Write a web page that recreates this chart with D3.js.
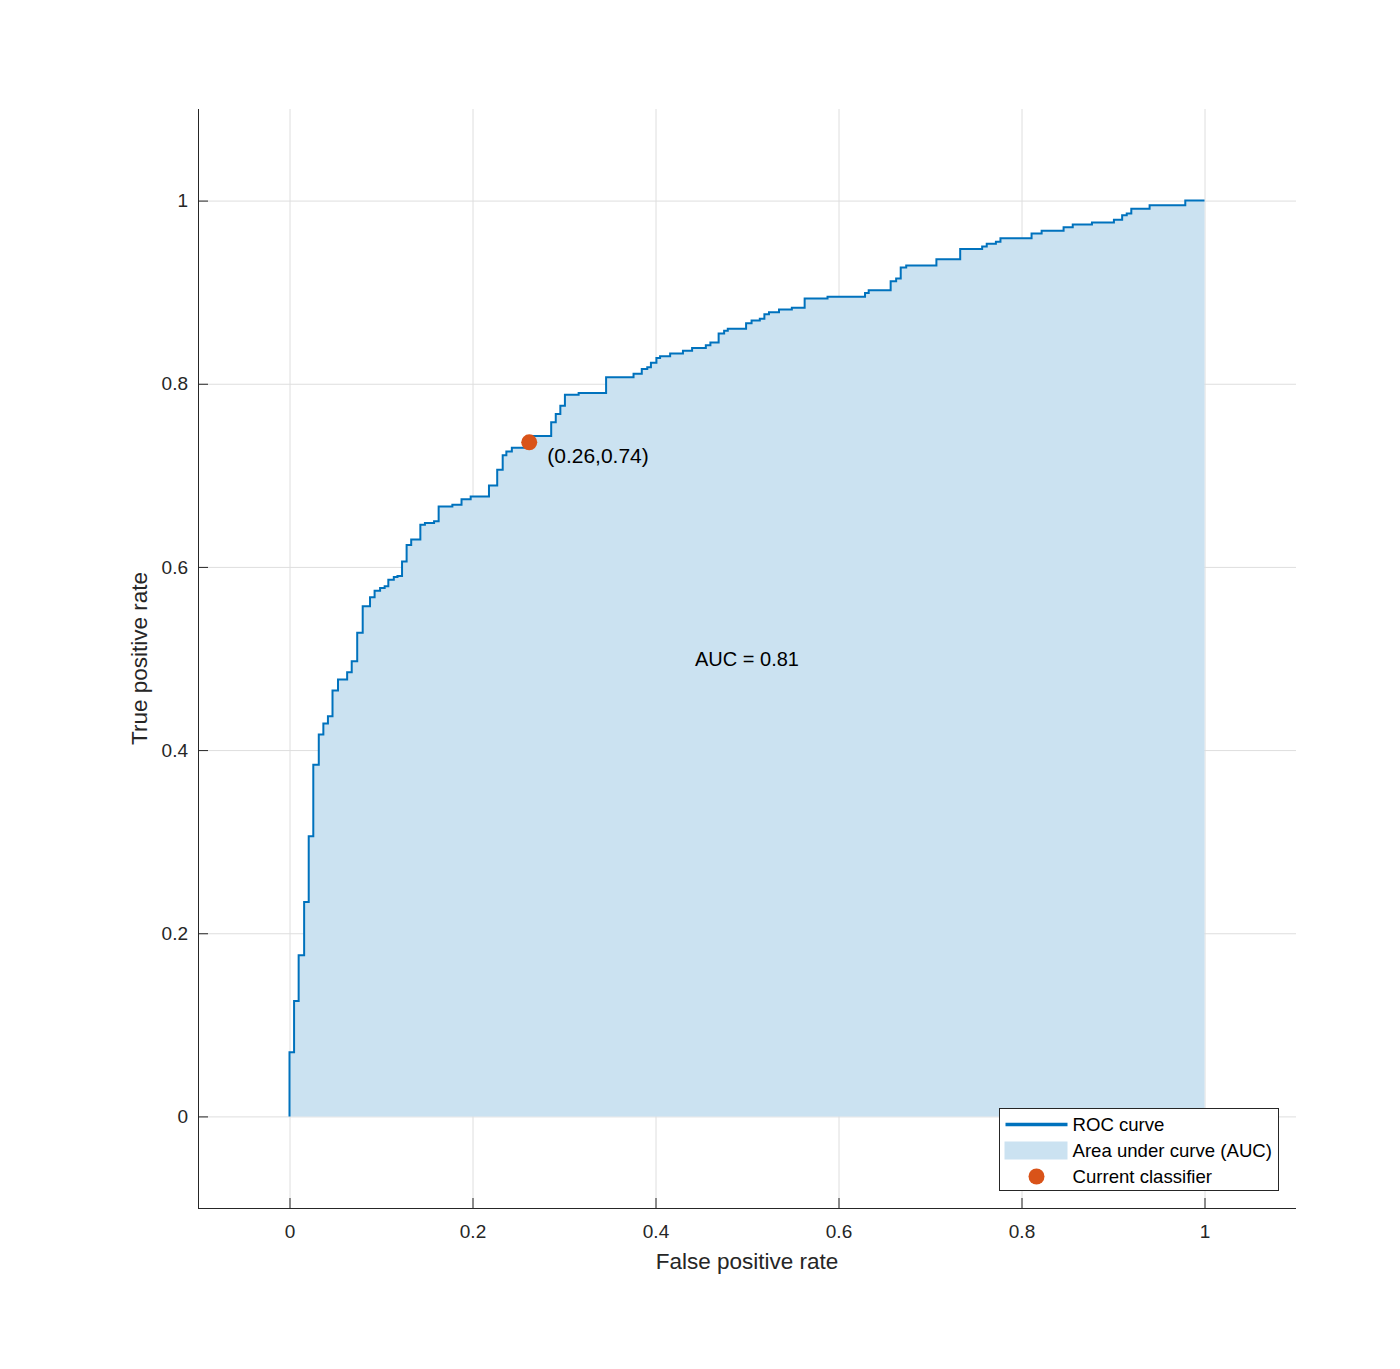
<!DOCTYPE html>
<html>
<head>
<meta charset="utf-8">
<script src="https://cdn.jsdelivr.net/npm/d3@7"></script>
<style>
  body { margin: 0; background: #fff; }
  svg { display: block; font-family: "Liberation Sans", Arial, Helvetica, sans-serif; }
</style>
</head>
<body>
<svg id="chart" width="1400" height="1369"></svg>
<script>
// ROC steps (fpr where the step happens, tpr after it)
var fprSteps = [0, 0, 0.005, 0.010, 0.016, 0.021, 0.026, 0.032, 0.037, 0.042, 0.047, 0.053, 0.063, 0.068, 0.074, 0.080,
  0.088, 0.093, 0.099, 0.104, 0.108, 0.114, 0.118, 0.123, 0.128, 0.133,
  0.143, 0.148, 0.158, 0.163, 0.178, 0.188, 0.198,
  0.218, 0.227, 0.233, 0.237, 0.243,
  0.260, 0.266,
  0.286, 0.291, 0.296, 0.301, 0.316, 0.346,
  0.376, 0.385, 0.391, 0.395, 0.401, 0.405, 0.416, 0.430, 0.440, 0.455, 0.460,
  0.469, 0.475, 0.479, 0.499, 0.505, 0.514, 0.519, 0.524, 0.535, 0.549,
  0.563, 0.588, 0.629, 0.633,
  0.657, 0.663, 0.668, 0.674, 0.707, 0.733,
  0.757, 0.762, 0.772, 0.777,
  0.811, 0.822, 0.846, 0.856, 0.877,
  0.901, 0.910, 0.915, 0.920, 0.940, 0.979, 1];
var tprSteps = [0, 0.070, 0.126, 0.176, 0.234, 0.306, 0.384, 0.417, 0.429, 0.437, 0.465, 0.477, 0.485, 0.497, 0.528, 0.557,
  0.567, 0.574, 0.577, 0.579, 0.586, 0.589, 0.590, 0.606, 0.624, 0.630,
  0.646, 0.648, 0.650, 0.666, 0.668, 0.674, 0.677,
  0.689, 0.706, 0.722, 0.726, 0.730,
  0.736, 0.743,
  0.758, 0.767, 0.776, 0.788, 0.790, 0.807,
  0.811, 0.816, 0.818, 0.823, 0.828, 0.830, 0.833, 0.836, 0.839, 0.842, 0.845,
  0.855, 0.858, 0.860, 0.866, 0.869, 0.871, 0.876, 0.878, 0.881, 0.883,
  0.893, 0.895, 0.899, 0.902,
  0.912, 0.915, 0.927, 0.929, 0.936, 0.947,
  0.950, 0.953, 0.955, 0.959,
  0.964, 0.967, 0.971, 0.974, 0.976,
  0.979, 0.984, 0.986, 0.991, 0.995, 1.000, 1.000];

var opFpr = [0.262];
var opTpr = [0.736];
var opLabel = ["(0.26,0.74)"];
var aucText = "AUC = 0.81";

var tickValues = [0, 0.2, 0.4, 0.6, 0.8, 1];
var tickLabels = ["0", "0.2", "0.4", "0.6", "0.8", "1"];
var legendLabels = ["ROC curve", "Area under curve (AUC)", "Current classifier"];

var lineColor = '#0072bd';
var areaColor = '#cbe2f1';
var dotColor = '#d95319';
var axisColor = '#262626';
var gridColor = '#dedede';

var plotLeft = 198, plotRight = 1296, plotTop = 109, plotBottom = 1208;

var x = d3.scaleLinear().domain([-0.1, 1.1]).range([plotLeft, plotRight]);
var y = d3.scaleLinear().domain([-0.1, 1.1]).range([plotBottom, plotTop]);

var svg = d3.select('#chart');

var points = fprSteps.map(function (f, i) { return [f, tprSteps[i]]; });

// grid
svg.append('g')
  .attr('transform', 'translate(0,' + plotBottom + ')')
  .call(d3.axisBottom(x).tickValues(tickValues).tickSize(-(plotBottom - plotTop)).tickFormat(''))
  .call(function (g) { g.select('.domain').remove(); })
  .selectAll('line').attr('stroke', gridColor);

svg.append('g')
  .attr('transform', 'translate(' + plotLeft + ',0)')
  .call(d3.axisLeft(y).tickValues(tickValues).tickSize(-(plotRight - plotLeft)).tickFormat(''))
  .call(function (g) { g.select('.domain').remove(); })
  .selectAll('line').attr('stroke', gridColor);

// area + curve
var area = d3.area()
  .curve(d3.curveStepAfter)
  .x(function (d) { return x(d[0]); })
  .y0(y(0))
  .y1(function (d) { return y(d[1]); });

var line = d3.line()
  .curve(d3.curveStepAfter)
  .x(function (d) { return x(d[0]); })
  .y(function (d) { return y(d[1]); });

svg.append('path')
  .datum(points)
  .attr('d', area)
  .attr('fill', areaColor);

svg.append('path')
  .datum(points)
  .attr('d', line)
  .attr('fill', 'none')
  .attr('stroke', lineColor)
  .attr('stroke-width', 2);

// axes (ticks point inward)
var xAxis = svg.append('g')
  .attr('transform', 'translate(0,' + plotBottom + ')')
  .call(d3.axisBottom(x).tickValues(tickValues).tickSize(-10).tickPadding(17)
    .tickFormat(function (d, i) { return tickLabels[i]; }));

var yAxis = svg.append('g')
  .attr('transform', 'translate(' + plotLeft + ',0)')
  .call(d3.axisLeft(y).tickValues(tickValues).tickSize(-10).tickPadding(10)
    .tickFormat(function (d, i) { return tickLabels[i]; }));

[xAxis, yAxis].forEach(function (g) {
  g.attr('font-family', null).attr('font-size', 19);
  g.selectAll('.tick line').attr('stroke', axisColor);
  g.selectAll('.tick text').attr('fill', axisColor);
});
xAxis.select('.domain').attr('stroke', axisColor).attr('d', 'M' + plotLeft + ',0.5H' + plotRight);
yAxis.select('.domain').attr('stroke', axisColor).attr('d', 'M0.5,' + plotTop + 'V' + plotBottom);

// axis labels
svg.append('text')
  .attr('x', (plotLeft + plotRight) / 2)
  .attr('y', 1269)
  .attr('text-anchor', 'middle')
  .attr('font-size', 22.5)
  .attr('fill', axisColor)
  .text('False positive rate');

svg.append('text')
  .attr('transform', 'translate(147,' + ((plotTop + plotBottom) / 2) + ') rotate(-90)')
  .attr('text-anchor', 'middle')
  .attr('font-size', 22.5)
  .attr('fill', axisColor)
  .text('True positive rate');

// operating point
svg.selectAll('circle.op')
  .data(opFpr)
  .enter()
  .append('circle')
  .attr('class', 'op')
  .attr('cx', function (d) { return x(d); })
  .attr('cy', function (d, i) { return y(opTpr[i]); })
  .attr('r', 8)
  .attr('fill', dotColor);

svg.selectAll('text.op')
  .data(opFpr)
  .enter()
  .append('text')
  .attr('class', 'op')
  .attr('x', function (d) { return x(d) + 18; })
  .attr('y', function (d, i) { return y(opTpr[i]) + 21; })
  .attr('font-size', 21)
  .attr('fill', '#000')
  .text(function (d, i) { return opLabel[i]; });

svg.append('text')
  .attr('x', x(0.5))
  .attr('y', y(0.5))
  .attr('dy', '0.35em')
  .attr('text-anchor', 'middle')
  .attr('font-size', 20)
  .attr('fill', '#000')
  .text(aucText);

// legend
var legend = svg.append('g').attr('transform', 'translate(999.5,1108.5)');
legend.append('rect')
  .attr('width', 279)
  .attr('height', 82)
  .attr('fill', '#fff')
  .attr('stroke', axisColor)
  .attr('stroke-width', 1);

legend.append('line')
  .attr('x1', 6).attr('x2', 68)
  .attr('y1', 16).attr('y2', 16)
  .attr('stroke', lineColor)
  .attr('stroke-width', 3.5);

legend.append('rect')
  .attr('x', 5).attr('y', 33)
  .attr('width', 63).attr('height', 18)
  .attr('fill', areaColor);

legend.append('circle')
  .attr('cx', 37).attr('cy', 68)
  .attr('r', 8)
  .attr('fill', dotColor);

legend.selectAll('text')
  .data(legendLabels)
  .enter()
  .append('text')
  .attr('x', 73)
  .attr('y', function (d, i) { return 22.5 + i * 26; })
  .attr('font-size', 18.6)
  .attr('fill', '#000')
  .text(function (d) { return d; });
</script>
</body>
</html>
